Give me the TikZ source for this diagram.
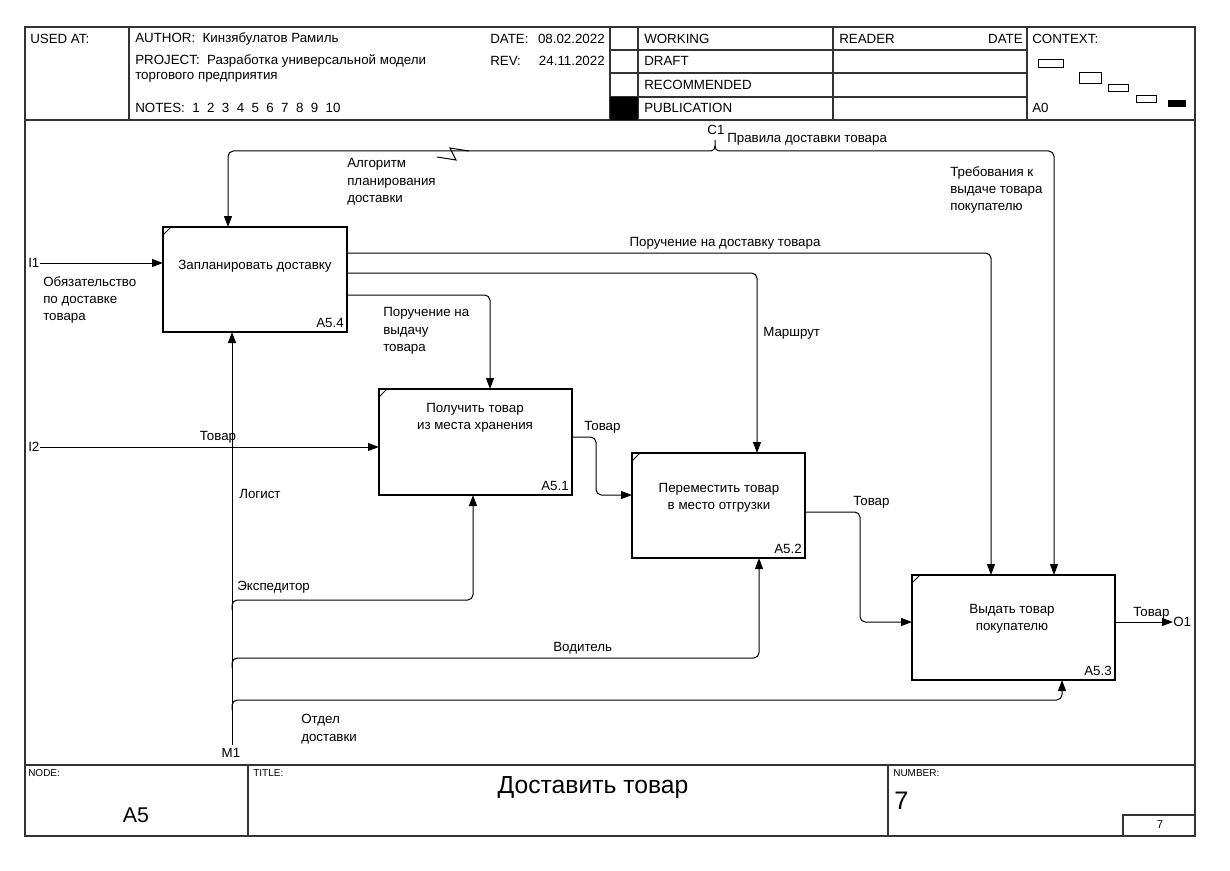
\documentclass[tikz,border=0pt]{standalone}
\usepackage{fontspec}
\setmainfont{Liberation Sans}
\usetikzlibrary{arrows.meta,fit,calc}
\begin{document}
\begin{tikzpicture}[x=0.75pt,y=-0.75pt,
  every node/.style={font=\fontsize{10}{13}\selectfont, inner sep=0pt},
  lbl/.style={anchor=west, align=left},
  hdr/.style={anchor=west},
  frm/.style={draw=black!80, line width=0.8pt},
  actbox/.style={draw, line width=1.6pt, fit={#1}, inner sep=0pt, outer sep=0pt},
  boxtxt/.style={align=center},
  boxnum/.style={anchor=south east},
  ln/.style={line width=0.75pt, rounded corners=4pt},
  arr/.style={line width=0.75pt, rounded corners=4pt, -{Triangle[length=8.25pt,width=6pt]}},
]
\useasboundingbox (0,0) rectangle (1230,870);
\fill[white] (0,0) rectangle (1230,870);

% ---------- frame ----------
\draw[frm] (25,27) rectangle (1195,836);
\draw[frm] (25,120) -- (1195,120);
\draw[frm] (25,765) -- (1195,765);
% header grid
\draw[frm] (129,27) -- (129,120);
\draw[frm] (610,27) -- (610,120);
\draw[frm] (638,27) -- (638,120);
\draw[frm] (833,27) -- (833,120);
\draw[frm] (1027,27) -- (1027,120);
\foreach \yy in {50,73,97} \draw[frm] (610,\yy) -- (1027,\yy);
\fill[black] (610,97) rectangle (638,120);

\node[hdr] (usedat) at (30,39) {USED AT:};
\node[hdr] (author) at (135,39) {AUTHOR:\ \ Кинзябулатов Рамиль};
\node[hdr] (project) at (135,61) {PROJECT:\ \ Разработка универсальной модели};
\node[hdr] (project2) at (135,77) {торгового предприятия};
\node[hdr] (notes) at (135,108) {NOTES:\ \ 1\ \ 2\ \ 3\ \ 4\ \ 5\ \ 6\ \ 7\ \ 8\ \ 9\ \ 10};
\node[hdr] (date) at (490,39) {DATE:};
\node[anchor=east] (dateval) at (605,39) {08.02.2022};
\node[hdr] (rev) at (490,61) {REV:};
\node[anchor=east] (revval) at (605,61) {24.11.2022};
\node[hdr] (working) at (644,39) {WORKING};
\node[hdr] (draft) at (644,61) {DRAFT};
\node[hdr] (recom) at (644,85) {RECOMMENDED};
\node[hdr] (publ) at (644,108) {PUBLICATION};
\node[hdr] (reader) at (839,39) {READER};
\node[anchor=east] (rdate) at (1023,39) {DATE};
\node[hdr] (context) at (1032,39) {CONTEXT:};
\node[hdr] (a0) at (1032,108) {A0};
% context thumbnails
\draw[line width=0.6pt] (1038,59) rectangle (1063,67);
\draw[line width=0.6pt] (1079,72) rectangle (1101,83);
\draw[line width=0.6pt] (1108,84) rectangle (1128,91);
\draw[line width=0.6pt] (1136,95) rectangle (1156,102);
\fill[black] (1168,100) rectangle (1186,107);

% ---------- footer ----------
\draw[frm] (248,765) -- (248,836);
\draw[frm] (888,765) -- (888,836);
\draw[frm] (1123,815) rectangle (1195,836);
\node[hdr, font=\fontsize{7.5}{9}\selectfont] (nodelbl) at (28,773) {NODE:};
\node[font=\fontsize{16}{19}\selectfont] (nodeval) at (136,815) {A5};
\node[hdr, font=\fontsize{7.5}{9}\selectfont] (titlelbl) at (253,773) {TITLE:};
\node[font=\fontsize{18.5}{22}\selectfont] (title) at (593,788) {Доставить товар};
\node[hdr, font=\fontsize{7.5}{9}\selectfont] (numlbl) at (893,773) {NUMBER:};
\node[hdr, font=\fontsize{19}{22}\selectfont] (numval) at (894,801) {7};
\node[font=\fontsize{8.5}{10}\selectfont] (pagenum) at (1160,825) {7};

% ---------- activity boxes ----------
\node[actbox={(163,227) (347,332)}] (a54) {};
\node[actbox={(379,389) (572,495)}] (a51) {};
\node[actbox={(632,453) (805,558)}] (a52) {};
\node[actbox={(912,575) (1115,680)}] (a53) {};
\foreach \b in {a54,a51,a52,a53}
  \draw[line width=0.75pt] ($(\b.north west)+(0,8)$) -- ($(\b.north west)+(8,0)$);

\node[boxtxt] (a54t) at (255,266) {Запланировать доставку};
\node[boxnum] (a54n) at ($(a54.south east)+(-3,-4)$) {A5.4};
\node[boxtxt] (a51t) at (475,418) {Получить товар\\из места хранения};
\node[boxnum] (a51n) at ($(a51.south east)+(-3,-4)$) {A5.1};
\node[boxtxt] (a52t) at (719,498) {Переместить товар\\в место отгрузки};
\node[boxnum] (a52n) at ($(a52.south east)+(-3,-4)$) {A5.2};
\node[boxtxt] (a53t) at (1012,619) {Выдать товар\\покупателю};
\node[boxnum] (a53n) at ($(a53.south east)+(-3,-4)$) {A5.3};

% ---------- controls ----------
\node (c1) at (716,130) {C1};
\coordinate (c1j) at (715,140);
\draw[line width=0.75pt] (c1j) -- ++(0,6) to[out=-90,in=0] ++(-4,5);
\draw[line width=0.75pt] ($(c1j)+(0,6)$) to[out=-90,in=180] ++(4,5);
\draw[arr] ($(c1j)+(-4,11)$) -| ($(a54.north west)+(65,0)$);
\draw[arr] ($(c1j)+(4,11)$) -| ($(a53.north west)+(142,0)$);
\draw[line width=0.75pt] (437,157) -- (456,160) -- (450,148) -- (469,151);

\node[lbl] (lpravila) at (727,139) {Правила доставки товара};
\node[lbl] (lalg) at (347,182) {Алгоритм\\планирования\\доставки};
\node[lbl] (ltreb) at (950,190) {Требования к\\выдаче товара\\покупателю};

% ---------- outputs of A5.4 ----------
\draw[arr] ($(a54.north east)+(0,26)$) -| ($(a53.north west)+(79,0)$);
\draw[arr] ($(a54.north east)+(0,46)$) -| ($(a52.north west)+(125,0)$);
\draw[arr] ($(a54.north east)+(0,68)$) -| ($(a51.north west)+(111,0)$);
\node (lporuch) at (725,243) {Поручение на доставку товара};
\node[lbl] (lmarsh) at (763,333) {Маршрут};
\node[lbl] (lvyd) at (383,331) {Поручение на\\выдачу\\товара};

% ---------- inputs ----------
\node[hdr] (i1) at (28,263) {I1};
\draw[arr] (i1.east) -- ($(a54.north west)+(0,36)$);
\node[lbl] (lobyaz) at (43,300) {Обязательство\\по доставке\\товара};
\node[hdr] (i2) at (28,447) {I2};
\draw[arr] (i2.east) -- ($(a51.north west)+(0,58)$);
\node (ltovar1) at (218,437) {Товар};

% ---------- flows between boxes ----------
\draw[arr] ($(a51.north east)+(0,48)$) -- ++(24,0) |- ($(a52.north west)+(0,42)$);
\node[lbl] (ltovar2) at (584,427) {Товар};
\draw[arr] ($(a52.north east)+(0,59)$) -- ++(55,0) |- ($(a53.north west)+(0,47)$);
\node[lbl] (ltovar3) at (853,502) {Товар};
\node[hdr] (o1) at (1173,622) {O1};
\draw[arr] ($(a53.north east)+(0,47)$) -- (o1.west);
\node[lbl] (ltovar4) at (1133,613) {Товар};

% ---------- mechanisms ----------
\node (m1) at (231,753) {M1};
\coordinate (m1x) at ($(a54.south west)+(69,0)$);
\draw[arr] ($(m1.north)+(1,-3)$) -- (m1x);
\draw[arr] ($(m1x)+(0,278)$) |- ($(a51.south west)+(94,105)$) -- ($(a51.south west)+(94,0)$);
\draw[arr] ($(m1x)+(0,336)$) |- ($(a52.south west)+(127,100)$) -- ($(a52.south west)+(127,0)$);
\draw[arr] ($(m1x)+(0,378)$) |- ($(a53.south west)+(150,20)$) -- ($(a53.south west)+(150,0)$);
\node[lbl] (llogist) at (239,494) {Логист};
\node[lbl] (lexped) at (237,587) {Экспедитор};
\node[lbl] (lvodit) at (553,648) {Водитель};
\node[lbl] (lotdel) at (301,729) {Отдел\\доставки};
\end{tikzpicture}
\end{document}
